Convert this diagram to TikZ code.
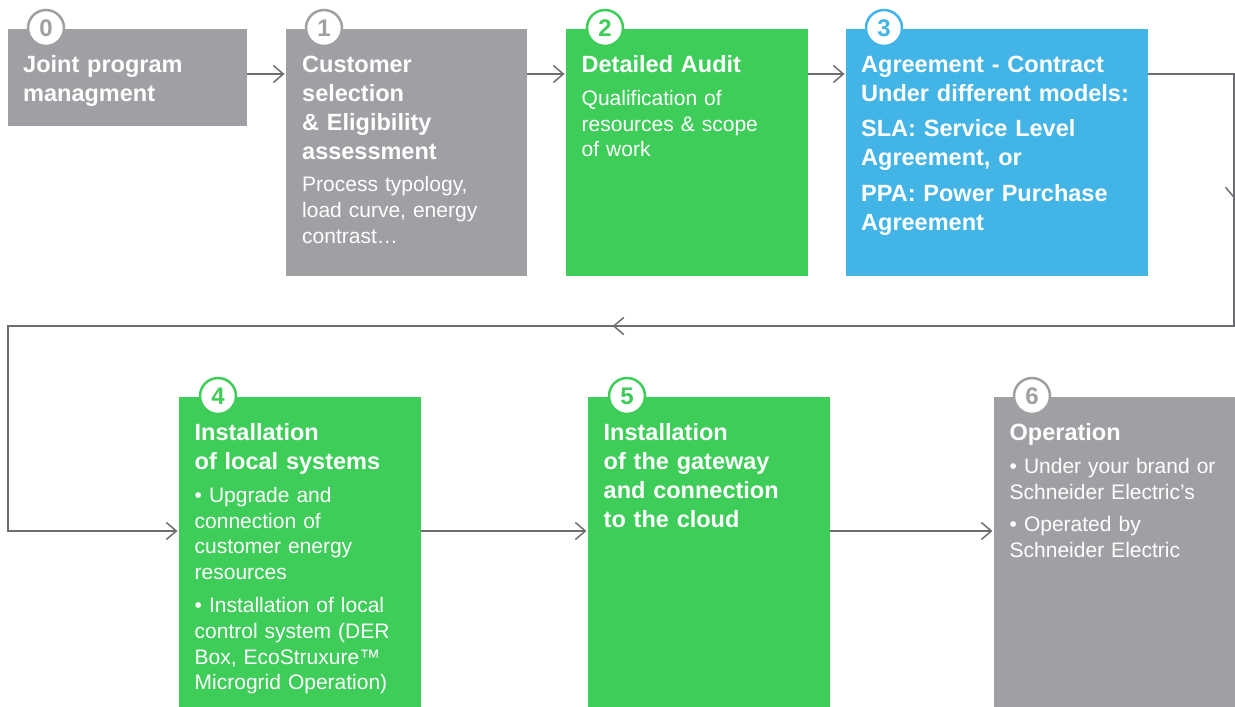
\documentclass[tikz,border=0pt]{standalone}
\usepackage{fontspec}
\setmainfont{Liberation Sans}
\usetikzlibrary{arrows.meta,decorations.markings}
\definecolor{sgray}{HTML}{9FA0A3}
\definecolor{sgreen}{HTML}{3DCD58}
\definecolor{sblue}{HTML}{42B4E6}
\definecolor{sline}{HTML}{6D6E71}
\newcommand\ttlfont{\fontsize{23.5}{29}\selectfont\bfseries\parindent=0pt}
\newcommand\bodyfont{\fontsize{21}{25.8}\selectfont\parindent=0pt}
\newcommand\numfont{\fontsize{24}{24}\selectfont\bfseries}
\tikzset{
  stepbox/.style={draw=none, rectangle, inner sep=0pt, anchor=north west},
  ttl/.style={anchor=north west, inner sep=0pt, text=white, align=left, text width=300pt, font=\ttlfont},
  bodytxt/.style={anchor=north west, inner sep=0pt, text=white, align=left, text width=300pt, font=\bodyfont},
  numc/.style={circle, fill=white, draw=#1, line width=2.5pt, minimum size=36pt, inner sep=0pt, text=#1, font=\numfont},
  tipa/.tip={Straight Barb[length=10pt,width=17pt]},
  conn/.style={draw=sline, line width=1.5pt, -tipa, shorten >=1.5pt},
}
\begin{document}
\begin{tikzpicture}[x=1pt,y=-1pt]
\useasboundingbox (0,0) rectangle (1235,707);
% boxes
\node[stepbox, fill=sgray,  minimum width=239pt, minimum height=97pt]  (b0) at (8,29) {};
\node[stepbox, fill=sgray,  minimum width=241pt, minimum height=247pt] (b1) at (286,29) {};
\node[stepbox, fill=sgreen, minimum width=242pt, minimum height=247pt] (b2) at (566,29) {};
\node[stepbox, fill=sblue,  minimum width=302pt, minimum height=247pt] (b3) at (846,29) {};
\node[stepbox, fill=sgreen, minimum width=242pt, minimum height=310pt] (b4) at (179,397) {};
\node[stepbox, fill=sgreen, minimum width=242pt, minimum height=310pt] (b5) at (588,397) {};
\node[stepbox, fill=sgray,  minimum width=241pt, minimum height=310pt] (b6) at (994,397) {};
% number circles
\node[numc=sgray]  (c0) at (46,28) {0};
\node[numc=sgray]  (c1) at (324,28) {1};
\node[numc=sgreen] (c2) at (605,28) {2};
\node[numc=sblue]  (c3) at (884,28) {3};
\node[numc=sgreen] (c4) at (218,396) {4};
\node[numc=sgreen] (c5) at (627,396) {5};
\node[numc=sgray]  (c6) at (1032,396) {6};
% texts
\node[ttl] (t0) at (23,51.7) {\strut Joint program\\managment};
\node[ttl] (t1) at (302,51.7) {\strut Customer\\selection\\\& Eligibility\\assessment};
\node[bodytxt] (d1) at (302,173.6) {\strut Process typology,\\load curve, energy\\contrast…};
\node[ttl] (t2) at (581.5,51.7) {\strut Detailed Audit};
\node[bodytxt] (d2) at (581.5,87) {\strut Qualification of\\resources \& scope\\of work};
\node[ttl] (t3) at (861,51.7) {\strut Agreement - Contract\\Under different models:\\[6.7pt]SLA: Service Level\\Agreement, or\\[6.7pt]PPA: Power Purchase\\Agreement};
\node[ttl] (t4) at (194.5,419.7) {\strut Installation\\of local systems};
\node[bodytxt] (d4) at (194.5,484) {\strut • Upgrade and\\connection of\\customer energy\\resources\\[7pt]• Installation of local\\control system (DER\\Box, EcoStruxure™\\Microgrid Operation)};
\node[ttl] (t5) at (603.5,419.7) {\strut Installation\\of the gateway\\and connection\\to the cloud};
\node[ttl] (t6) at (1009.5,419.7) {\strut Operation};
\node[bodytxt] (d6) at (1009.5,455) {\strut • Under your brand or\\Schneider Electric's\\[7pt]• Operated by\\Schneider Electric};
% helper coordinates
\coordinate (yA) at (0,74);
\coordinate (yB) at (0,531);
\coordinate (k1) at (1234,74);
\coordinate (k2) at (1234,326);
\coordinate (k3) at (8,326);
\coordinate (k4) at (8,531);
% connectors
\draw[conn] (b0.east |- yA) -- (b1.west |- yA);
\draw[conn] (b1.east |- yA) -- (b2.west |- yA);
\draw[conn] (b2.east |- yA) -- (b3.west |- yA);
\draw[conn, postaction={decorate}, decoration={markings,
    mark=at position 210pt with {\arrow{tipa}},
    mark=at position 959pt with {\arrow{tipa}}}]
  (b3.east |- yA) -- (k1) -- (k2) -- (k3) -- (k4) -- (b4.west |- yB);
\draw[conn] (b4.east |- yB) -- (b5.west |- yB);
\draw[conn] (b5.east |- yB) -- (b6.west |- yB);
\end{tikzpicture}
\end{document}
